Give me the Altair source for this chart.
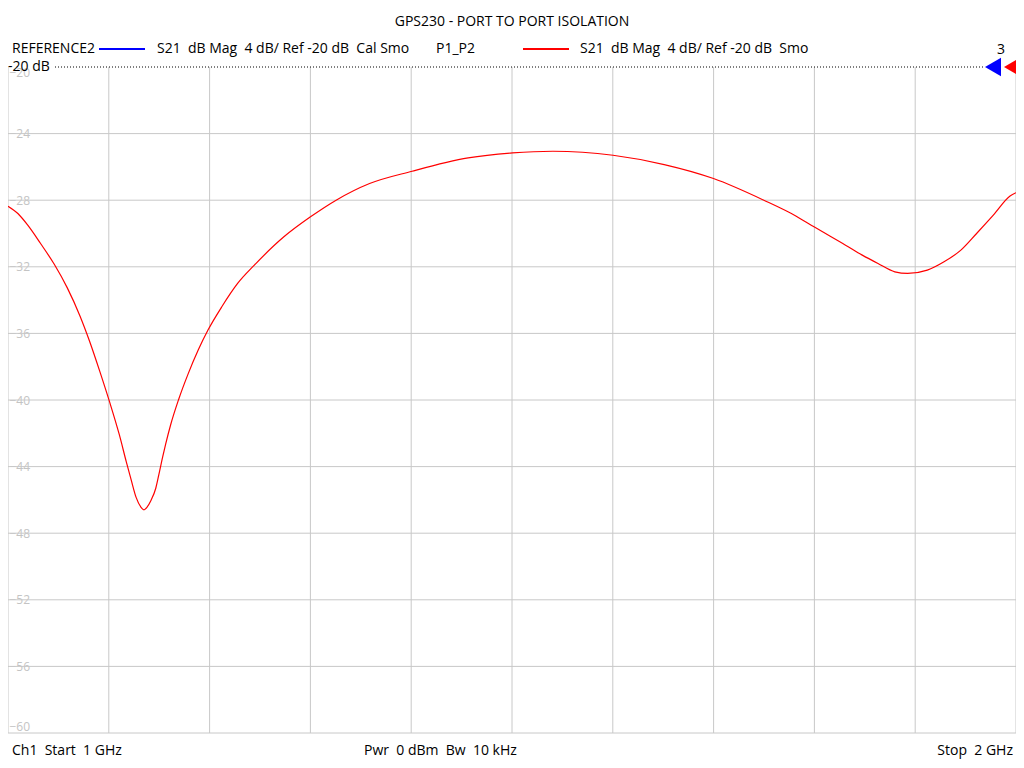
import altair as alt
import pandas as pd

# ---- data (frequency in GHz, S21 in dB) ----
freq_px = [0, 10, 20, 33, 47, 60, 73, 83, 93, 103, 113, 120, 125, 130, 135, 138,
           141, 145, 150, 153, 157, 160, 165, 173, 183, 193, 203, 217, 233, 250,
           280, 307, 333, 367, 410, 467, 512, 553, 614, 666, 716, 767, 800, 818,
           850, 867, 883, 900, 913, 933, 950, 967, 983, 1000, 1017, 1023]
freq_ghz = [round(1 + p / 1023, 4) for p in freq_px]
s21_db = [-28.36, -28.8, -29.5, -30.6, -31.85, -33.25, -34.95, -36.5, -38.25, -40.1,
          -42.1, -43.7, -44.8, -45.85, -46.45, -46.6, -46.45, -46.05, -45.3, -44.5,
          -43.4, -42.65, -41.5, -40.0, -38.4, -37.0, -35.8, -34.4, -33.0, -31.9,
          -30.2, -29.0, -28.0, -27.0, -26.26, -25.46, -25.16, -25.06, -25.3,
          -25.86, -26.7, -28.0, -28.96, -29.6, -30.7, -31.3, -31.8, -32.3, -32.4,
          -32.2, -31.7, -31.0, -30.0, -28.9, -27.75, -27.55]

x_grid = [1.0, 1.1, 1.2, 1.3, 1.4, 1.5, 1.6, 1.7, 1.8, 1.9, 2.0]
y_grid = [-24, -28, -32, -36, -40, -44, -48, -52, -56, -60]
y_ticks = [-60, -56, -52, -48, -44, -40, -36, -32, -28, -24, -20]

title_text = ["GPS230 - PORT TO PORT ISOLATION"]
trace1_name = ["REFERENCE2"]
trace1_desc = ["S21\u00a0\u00a0dB Mag\u00a0\u00a04 dB/ Ref -20 dB\u00a0\u00a0Cal Smo"]
trace2_name = ["P1_P2"]
trace2_desc = ["S21\u00a0\u00a0dB Mag\u00a0\u00a04 dB/ Ref -20 dB\u00a0\u00a0Smo"]
marker_text = ["3"]
ref_text = ["-20 dB"]
foot_left = ["Ch1\u00a0\u00a0Start\u00a0\u00a01 GHz"]
foot_mid = ["Pwr\u00a0\u00a00 dBm\u00a0\u00a0Bw\u00a0\u00a010 kHz"]
foot_right = ["Stop\u00a0\u00a02 GHz"]

W, H = 1008, 666
FONT = "Open Sans"
FS = 14
GRID = "#c8c8c8"

xs = alt.Scale(domain=[1, 2], nice=False, zero=False)
ys = alt.Scale(domain=[-60, -20], nice=False, zero=False)
yaxis = alt.Axis(values=y_ticks, title=None, grid=False, ticks=False, domain=False,
                 labelAlign="left", labelPadding=-1, labelFlush=True,
                 labelColor="#c4c4c4", labelFontSize=12, labelFont=FONT)

curve_df = pd.DataFrame({"f": freq_ghz, "db": s21_db})

vgrid = alt.Chart(pd.DataFrame({"f": x_grid})).mark_rule(
    color=GRID, strokeWidth=1).encode(x=alt.X("f:Q", scale=xs, axis=None))
hgrid = alt.Chart(pd.DataFrame({"db": y_grid})).mark_rule(
    color=GRID, strokeWidth=1).encode(y=alt.Y("db:Q", scale=ys, axis=yaxis))

curve = alt.Chart(curve_df).mark_line(
    color="#ff0000", strokeWidth=1.2, interpolate="monotone").encode(
    x=alt.X("f:Q", scale=xs, axis=None),
    y=alt.Y("db:Q", scale=ys, axis=yaxis))


def label(txt, x, y, align="left", color="#000000", size=FS):
    return alt.Chart(pd.DataFrame({"t": txt})).mark_text(
        align=align, baseline="middle", font=FONT, fontSize=size, color=color
    ).encode(x=alt.value(x), y=alt.value(y), text="t:N")


def hline(x1, x2, y, color, width=2, dash=None):
    kw = dict(color=color, strokeWidth=width)
    if dash:
        kw["strokeDash"] = dash
    return alt.Chart(pd.DataFrame({"a": [0]})).mark_rule(**kw).encode(
        x=alt.value(x1), x2=alt.value(x2), y=alt.value(y))


def tri(x, color):
    return alt.Chart(pd.DataFrame({"a": [0]})).mark_point(
        shape="triangle-left", filled=True, size=340, color=color, opacity=1
    ).encode(x=alt.value(x), y=alt.value(0))


LY = -18
layers = [
    vgrid, hgrid,
    hline(47, 976, 0, "#000000", width=1, dash=[1, 2]),
    curve,
    label(title_text, 504, -45, align="center"),
    label(trace1_name, 4, LY),
    hline(91, 137, LY, "#0000ff"),
    label(trace1_desc, 149, LY),
    label(trace2_name, 428, LY),
    hline(515, 561, LY, "#ff0000"),
    label(trace2_desc, 572, LY),
    label(marker_text, 993, LY + 1, align="center"),
    label(ref_text, 0, 0),
    tri(985, "#0000ff"),
    tri(1004, "#ff0000"),
    label(foot_left, 4, 684),
    label(foot_mid, 356, 684),
    label(foot_right, 1005, 684, align="right"),
]

chart = alt.layer(*layers).properties(
    width=W, height=H,
    autosize=alt.AutoSizeParams(type="none"),
    padding={"left": 0, "top": 59, "right": 0, "bottom": 27},
    background="white",
).configure_view(stroke=None)

chart.save("out.html", embed_options={"renderer": "svg", "actions": False})
